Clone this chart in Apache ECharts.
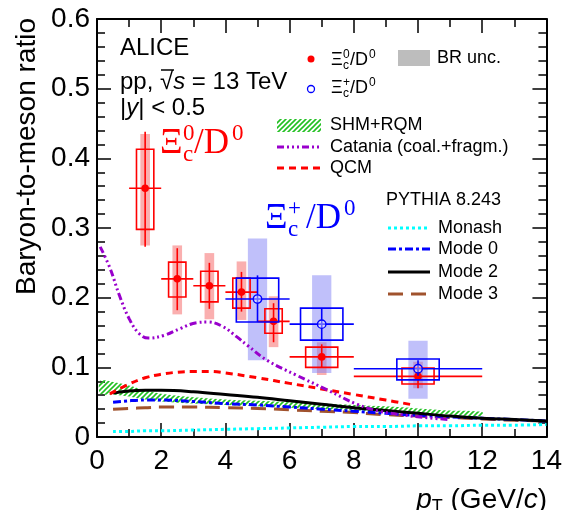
<!DOCTYPE html>
<html>
<head>
<meta charset="utf-8">
<script src="https://cdn.jsdelivr.net/npm/echarts/dist/echarts.min.js"></script>
<style>
  html, body { margin: 0; padding: 0; background: #fff; }
  #chart { width: 565px; height: 510px; }
</style>
</head>
<body>
<div id="chart"></div>
<script>
// Xi_c0/D0 measurement
const ptXi0 = [1.5, 2.5, 3.5, 4.5, 5.5, 7, 10];
const binLoXi0 = [1, 2, 3, 4, 5, 6, 8];
const binHiXi0 = [2, 3, 4, 5, 6, 8, 12];
const valXi0 = [0.357, 0.227, 0.217, 0.208, 0.166, 0.115, 0.087];
const statLoXi0 = [0.273, 0.182, 0.184, 0.180, 0.136, 0.099, 0.070];
const statHiXi0 = [0.438, 0.271, 0.250, 0.237, 0.192, 0.133, 0.100];
const sysLoXi0 = [0.298, 0.201, 0.194, 0.185, 0.149, 0.100, 0.076];
const sysHiXi0 = [0.413, 0.251, 0.238, 0.228, 0.184, 0.129, 0.099];
const brLoXi0 = [0.275, 0.176, 0.169, 0.168, 0.129, 0.089, 0.070];
const brHiXi0 = [0.435, 0.275, 0.264, 0.252, 0.202, 0.136, 0.108];

// Xi_c+/D0 measurement
const ptXip = [5, 7, 10];
const binLoXip = [4, 6, 8];
const binHiXip = [6, 8, 12];
const valXip = [0.198, 0.162, 0.098];
const statLoXip = [0.165, 0.139, 0.088];
const statHiXip = [0.232, 0.185, 0.110];
const sysLoXip = [0.165, 0.139, 0.082];
const sysHiXip = [0.228, 0.185, 0.112];
const brLoXip = [0.110, 0.092, 0.055];
const brHiXip = [0.285, 0.232, 0.138];

// models
const ptCatania = [0.1, 0.4, 0.7, 1.0, 1.3, 1.6, 2.1, 2.6, 3.1, 3.45, 3.9, 4.35, 4.7, 5.3, 6.2, 7.2, 8.1, 8.8, 9.5, 10.2, 11];
const valCatania = [0.273, 0.243, 0.203, 0.170, 0.149, 0.142, 0.146, 0.156, 0.164, 0.165, 0.159, 0.144, 0.131, 0.110, 0.089, 0.067, 0.047, 0.037, 0.032, 0.028, 0.025];
const ptQcm = [0.4, 1, 1.5, 2, 2.5, 3, 3.5, 4, 5, 6, 7, 8, 9, 9.85];
const valQcm = [0.062, 0.076, 0.085, 0.090, 0.093, 0.094, 0.094, 0.092, 0.085, 0.077, 0.069, 0.061, 0.053, 0.046];
const ptShm = [0.1, 0.5, 1, 1.5, 2, 3, 4, 5, 6, 7, 8, 9, 10, 11, 12];
const loShm = [0.062, 0.061, 0.058, 0.054, 0.051, 0.048, 0.046, 0.044, 0.042, 0.040, 0.038, 0.036, 0.034, 0.032, 0.030];
const hiShm = [0.081, 0.079, 0.074, 0.067, 0.062, 0.057, 0.054, 0.052, 0.050, 0.048, 0.046, 0.044, 0.041, 0.038, 0.036];
const ptPythia = [0.5, 1, 1.5, 2, 3, 4, 5, 6, 7, 8, 9, 10, 11, 12, 13, 14];
const valMode2 = [0.063, 0.066, 0.067, 0.067, 0.065, 0.061, 0.057, 0.052, 0.047, 0.042, 0.038, 0.034, 0.030, 0.027, 0.025, 0.023];
const valMode0 = [0.050, 0.052, 0.053, 0.053, 0.051, 0.048, 0.046, 0.043, 0.040, 0.037, 0.034, 0.031, 0.029, 0.027, 0.025, 0.023];
const valMode3 = [0.040, 0.041, 0.042, 0.043, 0.043, 0.042, 0.041, 0.039, 0.037, 0.035, 0.032, 0.030, 0.028, 0.026, 0.024, 0.023];
const valMonash = [0.008, 0.008, 0.009, 0.009, 0.010, 0.011, 0.012, 0.013, 0.014, 0.015, 0.015, 0.016, 0.016, 0.017, 0.017, 0.018];

const xTicks = [0, 14, 2];
const yTicks = [0, 0.6, 0.1];

const SANS = 'Liberation Sans, Arial, sans-serif';
const SERIF = 'Liberation Serif, Times New Roman, serif';
const RED = '#ff0000';
const BLUE = '#0000ff';

const zip = (...arrs) => arrs[0].map((_, i) => arrs.map(a => a[i]));

// hatch pattern for the SHM+RQM band
const hatch = document.createElement('canvas');
hatch.width = 5; hatch.height = 5;
(function () {
  const c = hatch.getContext('2d');
  c.strokeStyle = '#22c022';
  c.lineWidth = 1.6;
  c.beginPath();
  c.moveTo(0, 5); c.lineTo(5, 0);
  c.moveTo(-1, 1); c.lineTo(1, -1);
  c.moveTo(4, 6); c.lineTo(6, 4);
  c.stroke();
})();

function measRender(color, boxHalf, openMarker) {
  return function (params, api) {
    const pt = api.value(0), v = api.value(1), bl = api.value(2), bh = api.value(3);
    const sl = api.value(4), sh = api.value(5), yl = api.value(6), yh = api.value(7);
    const c = api.coord([pt, v]);
    const xL = api.coord([bl, v])[0], xR = api.coord([bh, v])[0];
    const hw = boxHalf(bh - bl);
    const b0 = api.coord([pt - hw, yh]), b1 = api.coord([pt + hw, yl]);
    const sT = api.coord([pt, sh])[1], sB = api.coord([pt, sl])[1];
    const st = { stroke: color, lineWidth: 1.6 };
    return {
      type: 'group',
      children: [
        { type: 'rect', shape: { x: b0[0], y: b0[1], width: b1[0] - b0[0], height: b1[1] - b0[1] },
          style: { stroke: color, lineWidth: 1.6, fill: 'none' } },
        { type: 'line', shape: { x1: xL, y1: c[1], x2: xR, y2: c[1] }, style: st },
        { type: 'line', shape: { x1: c[0], y1: sT, x2: c[0], y2: sB }, style: st },
        { type: 'circle', shape: { cx: c[0], cy: c[1], r: openMarker ? 4.2 : 3.8 },
          style: openMarker ? { stroke: color, lineWidth: 1.4, fill: 'rgba(255,255,255,0.4)' } : { fill: color } }
      ]
    };
  };
}

function shadeRender(fill, half) {
  return function (params, api) {
    const pt = api.value(0), lo = api.value(1), hi = api.value(2);
    const p0 = api.coord([pt - half, hi]), p1 = api.coord([pt + half, lo]);
    return { type: 'rect', shape: { x: p0[0], y: p0[1], width: p1[0] - p0[0], height: p1[1] - p0[1] },
      style: { fill: fill } };
  };
}

function bandRender(params, api) {
  if (params.dataIndex !== 0) return null;
  const upper = ptShm.map((p, i) => api.coord([p, hiShm[i]]));
  const lower = ptShm.map((p, i) => api.coord([p, loShm[i]])).reverse();
  return { type: 'polygon', shape: { points: upper.concat(lower), smooth: 0.3 },
    style: { fill: { image: hatch, repeat: 'repeat' } } };
}

function modelLine(name, xs, ys, color, dash, width) {
  return {
    name: name, type: 'line', data: zip(xs, ys), smooth: 0.4, showSymbol: false, silent: true,
    lineStyle: { color: color, width: width || 3, type: dash || 'solid', cap: 'butt' }, z: 3
  };
}

function axisCommon(position, show) {
  return {
    type: 'value', position: position,
    axisLine: { show: true, onZero: false, lineStyle: { color: '#000', width: 2 } },
    axisTick: { show: true, inside: true, length: 14, lineStyle: { color: '#000', width: 1.5 } },
    minorTick: { show: true, length: 8, lineStyle: { color: '#000', width: 1.5 } },
    splitLine: { show: false },
    axisLabel: { show: show, fontSize: 28, color: '#000', fontFamily: SANS }
  };
}

// text helpers for the graphic layer
function txt(x, y, text, size) {
  return { type: 'text', x: x, y: y, silent: true,
    style: { text: text, fontSize: size, fontFamily: SANS, fill: '#000', verticalAlign: 'middle' } };
}
function ratioLabel(x, y, size, color, sup, family, widths) {
  // Xi_c^{sup} / D^0 with stacked sub/superscript
  const s = size, ss = Math.round(size * 0.66);
  const base = (t, px, py, fs) => ({
    type: 'text', x: px, y: py, silent: true,
    style: { text: t, fontSize: fs, fontFamily: family, fill: color, verticalAlign: 'middle', align: 'left' }
  });
  const x1 = x + widths[0], x2 = x1 + widths[1], x3 = x2 + widths[2];
  return [
    base('Ξ', x, y, s),
    base(sup, x1, y - s * 0.3, ss),
    base('c', x1, y + s * 0.3, ss),
    base('/D', x2, y, s),
    base('0', x3, y - s * 0.3, ss)
  ];
}
function swatchLine(x1, x2, y, color, dash, width) {
  return { type: 'line', silent: true, shape: { x1: x1, y1: y, x2: x2, y2: y },
    style: { stroke: color, lineWidth: width || 3, lineDash: dash || null } };
}

const CATANIA_DASH = [7, 3, 2, 3, 2, 3, 2, 3];
const QCM_DASH = [7, 5];
const MONASH_DASH = [3, 3];
const MODE0_DASH = [8, 3, 3, 3];
const MODE3_DASH = [15, 8];

const chart = echarts.init(document.getElementById('chart'), null, { renderer: 'canvas' });

const xBottom = Object.assign(axisCommon('bottom', true), { min: xTicks[0], max: xTicks[1], interval: xTicks[2] });
const xTop = Object.assign(axisCommon('top', false), { min: xTicks[0], max: xTicks[1], interval: xTicks[2] });
const yLeft = Object.assign(axisCommon('left', true), { min: yTicks[0], max: yTicks[1], interval: yTicks[2] });
const yRight = Object.assign(axisCommon('right', false), { min: yTicks[0], max: yTicks[1], interval: yTicks[2] });
[xBottom, xTop].forEach(a => { a.minorTick.splitNumber = 2; });
[yLeft, yRight].forEach(a => { a.minorTick.splitNumber = 5; });
yLeft.axisLabel.formatter = v => (v === 0 ? '0' : v.toFixed(1));
yLeft.axisLabel.margin = 7;
xBottom.axisLabel.margin = 10;

const option = {
  animation: false,
  grid: { left: 97, right: 18, top: 19, bottom: 73 },
  xAxis: [xBottom, xTop],
  yAxis: [yLeft, yRight],
  series: [
    { type: 'custom', name: 'BR Xi0', renderItem: shadeRender('rgba(245,110,110,0.55)', 0.15),
      data: zip(ptXi0, brLoXi0, brHiXi0), z: 1, silent: true },
    { type: 'custom', name: 'BR Xip', renderItem: shadeRender('rgba(130,130,245,0.5)', 0.3),
      data: zip(ptXip, brLoXip, brHiXip), z: 1, silent: true },
    { type: 'custom', name: 'SHM+RQM', renderItem: bandRender, data: zip(ptShm, hiShm), z: 2, silent: true },
    modelLine('Monash', ptPythia, valMonash, '#00ffff', MONASH_DASH),
    modelLine('Mode 3', ptPythia, valMode3, '#a0522d', MODE3_DASH),
    modelLine('Mode 0', ptPythia, valMode0, '#0000ff', MODE0_DASH),
    modelLine('Mode 2', ptPythia, valMode2, '#000000', 'solid'),
    modelLine('QCM', ptQcm, valQcm, '#ff0000', QCM_DASH),
    modelLine('Catania', ptCatania, valCatania, '#9900cc', CATANIA_DASH),
    { type: 'custom', name: 'Xi_c0/D0', renderItem: measRender(RED, w => (w > 1 ? 0.5 : 0.27), false),
      data: zip(ptXi0, valXi0, binLoXi0, binHiXi0, statLoXi0, statHiXi0, sysLoXi0, sysHiXi0), z: 5, silent: true },
    { type: 'custom', name: 'Xi_c+/D0', renderItem: measRender(BLUE, () => 0.66, true),
      data: zip(ptXip, valXip, binLoXip, binHiXip, statLoXip, statHiXip, sysLoXip, sysHiXip), z: 6, silent: true }
  ],
  graphic: [
    // axis titles
    { type: 'text', x: 27, y: 18, rotation: Math.PI / 2, silent: true,
      style: { text: 'Baryon-to-meson ratio', fontSize: 28, fontFamily: SANS, fill: '#000', align: 'right', verticalAlign: 'middle' } },
    { type: 'text', x: 547, y: 500, silent: true,
      style: { text: '{i|p}{s|T} (GeV/{i|c})', fontSize: 28, fontFamily: SANS, fill: '#000', align: 'right', verticalAlign: 'middle',
        rich: { i: { fontStyle: 'italic', fontSize: 28, fontFamily: SANS }, s: { fontSize: 18, fontFamily: SANS, padding: [14, 0, 0, 0] } } } },
    // experiment info
    txt(120, 48, 'ALICE', 24),
    { type: 'text', x: 120, y: 82, silent: true,
      style: { text: 'pp, √{i|s} = 13 TeV', fontSize: 24, fontFamily: SANS, fill: '#000', verticalAlign: 'middle',
        rich: { i: { fontStyle: 'italic', fontSize: 24, fontFamily: SANS } } } },
    { type: 'line', silent: true, shape: { x1: 161, y1: 70, x2: 174, y2: 70 }, style: { stroke: '#000', lineWidth: 1.5 } },
    { type: 'text', x: 120, y: 108, silent: true,
      style: { text: '|{i|y}| < 0.5', fontSize: 24, fontFamily: SANS, fill: '#000', verticalAlign: 'middle',
        rich: { i: { fontStyle: 'italic', fontSize: 24, fontFamily: SANS } } } },
    // big labels
    ...ratioLabel(160, 144, 35, RED, '0', SERIF, [23, 11, 38]),
    ...ratioLabel(265, 219, 35, BLUE, '+', SERIF, [23, 18, 38]),
    // legend: data
    { type: 'circle', silent: true, shape: { cx: 311, cy: 59, r: 3.5 }, style: { fill: RED } },
    { type: 'circle', silent: true, shape: { cx: 311, cy: 89, r: 3.5 }, style: { fill: '#fff', stroke: BLUE, lineWidth: 1.3 } },
    ...ratioLabel(331, 60, 18, '#000', '0', SANS, [12, 7, 19]),
    ...ratioLabel(331, 88, 18, '#000', '+', SANS, [12, 7, 19]),
    { type: 'rect', silent: true, shape: { x: 398, y: 50, width: 32, height: 16 }, style: { fill: '#bdbdbd' } },
    txt(437, 58, 'BR unc.', 18),
    // legend: models
    { type: 'rect', silent: true, shape: { x: 277, y: 119, width: 44, height: 13 }, style: { fill: { image: hatch, repeat: 'repeat' } } },
    txt(330, 125, 'SHM+RQM', 18),
    swatchLine(277, 321, 147, '#9900cc', CATANIA_DASH),
    txt(330, 147, 'Catania (coal.+fragm.)', 18),
    swatchLine(277, 321, 168, '#ff0000', QCM_DASH),
    txt(330, 168, 'QCM', 18),
    txt(386, 200, 'PYTHIA 8.243', 18),
    swatchLine(388, 430, 228, '#00ffff', MONASH_DASH),
    txt(438, 228, 'Monash', 18),
    swatchLine(388, 430, 249, '#0000ff', MODE0_DASH),
    txt(438, 249, 'Mode 0', 18),
    swatchLine(388, 430, 272, '#000000', null),
    txt(438, 272, 'Mode 2', 18),
    swatchLine(388, 430, 294, '#a0522d', MODE3_DASH),
    txt(438, 294, 'Mode 3', 18)
  ]
};

chart.setOption(option);
window.addEventListener('resize', () => chart.resize());
</script>
</body>
</html>
